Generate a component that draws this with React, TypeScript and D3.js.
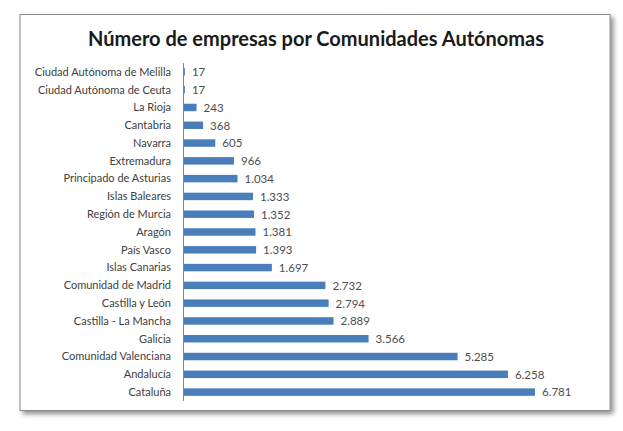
import React from "react";
import * as d3 from "d3";

const categories = [
  "Ciudad Autónoma de Melilla",
  "Ciudad Autónoma de Ceuta",
  "La Rioja",
  "Cantabria",
  "Navarra",
  "Extremadura",
  "Principado de Asturias",
  "Islas Baleares",
  "Región de Murcia",
  "Aragón",
  "País Vasco",
  "Islas Canarias",
  "Comunidad de Madrid",
  "Castilla y León",
  "Castilla - La Mancha",
  "Galicia",
  "Comunidad Valenciana",
  "Andalucía",
  "Cataluña",
];
const values = [17, 17, 243, 368, 605, 966, 1034, 1333, 1352, 1381, 1393, 1697, 2732, 2794, 2889, 3566, 5285, 6258, 6781];
const title = "Número de empresas por Comunidades Autónomas";

const W = 623;
const H = 431;
const locale = d3.formatLocale({ decimal: ",", thousands: ".", grouping: [3], currency: ["", "€"] });
const fmt = locale.format(",d");

export default function App() {
  const x0 = 183;
  const x = d3.scaleLinear().domain([0, 6781]).range([x0, 534]);
  const y = d3.scaleBand<string>().domain(categories).range([63, 401]).paddingInner(0.58).paddingOuter(0.29);
  const font = "Lato, 'Open Sans', sans-serif";
  return (
    <svg width={W} height={H} style={{ position: "absolute", left: 0, top: 0, background: "#fff" }}>
      <defs>
        <filter id="sh" x="-5%" y="-5%" width="112%" height="115%">
          <feDropShadow dx="3" dy="3" stdDeviation="2.5" floodColor="#000" floodOpacity="0.45" />
        </filter>
      </defs>
      <rect x={20} y={14.5} width={590} height={396} fill="#fff" stroke="#8c8c8c" strokeWidth={1} filter="url(#sh)" />
      <text x={316} y={46} textAnchor="middle" fontFamily={font} fontWeight={700} fontSize={20} fill="#1a1a1a">
        {title}
      </text>
      <line x1={x0 + 0.5} x2={x0 + 0.5} y1={63} y2={401} stroke="#868686" strokeWidth={1} />
      {categories.map((c, i) => {
        const yc = (y(c) as number) + y.bandwidth() / 2;
        return (
          <g key={c}>
            <rect x={x0 + 1} y={y(c)} width={x(values[i]) - x0} height={y.bandwidth()} fill="#4a7ebb" />
            <text x={171} y={yc} dy="0.35em" textAnchor="end" fontFamily={font} fontSize={11} fill="#404040">
              {c}
            </text>
            <text x={x(values[i]) + 8} y={yc} dy="0.38em" textAnchor="start" fontFamily={font} fontSize={11.5} fill="#4d4d4d">
              {fmt(values[i])}
            </text>
          </g>
        );
      })}
    </svg>
  );
}
